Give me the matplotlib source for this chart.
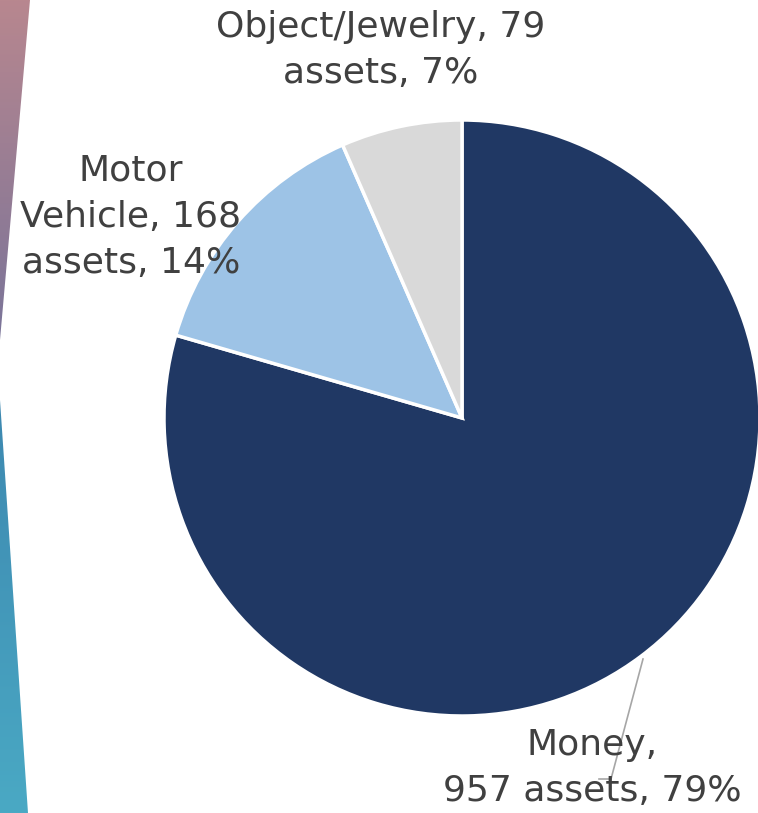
import numpy as np
import matplotlib.pyplot as plt
from matplotlib.colors import LinearSegmentedColormap
from matplotlib.patches import Polygon

categories = ['Money', 'Motor Vehicle', 'Object/Jewelry']
counts = [957, 168, 79]
percents = ['79%', '14%', '7%']
colors = ['#203864', '#9dc3e6', '#d9d9d9']

W, H = 758, 813
fig = plt.figure(figsize=(W / 100, H / 100), dpi=100)
ax = fig.add_axes([0, 0, 1, 1])
ax.set_xlim(0, W)
ax.set_ylim(0, H)
ax.axis('off')

# decorative side strips with gradients
def strip(pts, c_top, c_bot, y0, y1):
    cmap = LinearSegmentedColormap.from_list('s', [c_bot, c_top])
    grad = np.linspace(0, 1, 256).reshape(-1, 1)
    im = ax.imshow(grad, cmap=cmap, extent=[0, 40, y0, y1],
                   origin='lower', aspect='auto', zorder=0)
    poly = Polygon(pts, closed=True, transform=ax.transData)
    im.set_clip_path(poly)

strip([(0, H), (30, H), (0, H - 340)], '#b8878f', '#7a7499', H - 340, H)
strip([(0, H - 400), (0, 0), (28, 0)], '#3d88b0', '#4aa9c4', 0, H - 400)

cx, cy, r = 462, H - 418, 298
ax.pie(counts, colors=colors, startangle=90, counterclock=False,
       center=(cx, cy), radius=r, frame=True,
       wedgeprops=dict(edgecolor='white', linewidth=2.5))
ax.set_xlim(0, W)
ax.set_ylim(0, H)
ax.set_aspect('equal')
ax.axis('off')

txt = dict(fontsize=26, color='#404040', family='DejaVu Sans',
           ha='center', va='center', linespacing=1.45)

ax.text(381, H - 50, f'{categories[2]}, {counts[2]}\nassets, {percents[2]}', **txt)
ax.text(131, H - 217, f'Motor\nVehicle, {counts[1]}\nassets, {percents[1]}', **txt)
ax.plot([643, 611, 599], [H - 659, H - 779, H - 779], color='#a6a6a6', lw=1.2)
ax.text(592, H - 768, f'{categories[0]},\n{counts[0]} assets, {percents[0]}', **txt)

fig.savefig('out.png', dpi=100)
